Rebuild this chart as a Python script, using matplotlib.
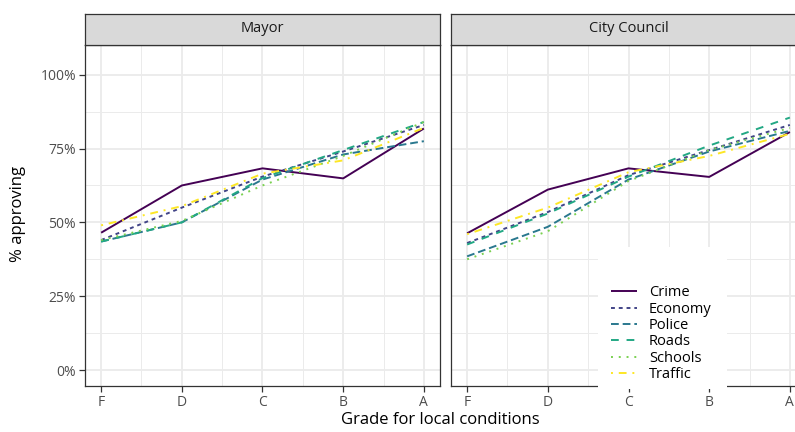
import matplotlib
matplotlib.use("Agg")
import matplotlib.pyplot as plt
from matplotlib.patches import Rectangle
from matplotlib.lines import Line2D

plt.rcParams['font.family'] = ['Open Sans', 'DejaVu Sans']

grades = ["F", "D", "C", "B", "A"]
panels = ["Mayor", "City Council"]
issues = ["Crime", "Economy", "Police", "Roads", "Schools", "Traffic"]

mayor_crime = [0.465, 0.625, 0.683, 0.649, 0.818]
mayor_economy = [0.44, 0.55, 0.655, 0.74, 0.83]
mayor_police = [0.435, 0.50, 0.645, 0.73, 0.775]
mayor_roads = [0.435, 0.50, 0.65, 0.745, 0.84]
mayor_schools = [0.44, 0.505, 0.625, 0.725, 0.84]
mayor_traffic = [0.49, 0.555, 0.665, 0.71, 0.82]

council_crime = [0.463, 0.611, 0.683, 0.654, 0.806]
council_economy = [0.43, 0.535, 0.66, 0.745, 0.83]
council_police = [0.385, 0.485, 0.645, 0.74, 0.81]
council_roads = [0.425, 0.53, 0.655, 0.76, 0.855]
council_schools = [0.375, 0.47, 0.64, 0.745, 0.82]
council_traffic = [0.46, 0.55, 0.67, 0.725, 0.80]

data = {
    "Mayor": [mayor_crime, mayor_economy, mayor_police, mayor_roads, mayor_schools, mayor_traffic],
    "City Council": [council_crime, council_economy, council_police, council_roads, council_schools, council_traffic],
}

colors = ["#440154", "#414487", "#2A788E", "#22A884", "#7AD151", "#FDE725"]
dashes = [None, (2, 2), (4, 2), (4, 4), (1, 3), (1, 3, 4, 3)]
lw = 1.4

W, H = 795, 432
fig = plt.figure(figsize=(W / 100, H / 100), dpi=100)

def fx(px):
    return px / W

def fy(py):
    return 1 - py / H

panel_left = [85, 451]
pw = 355
ptop, pbot = 44.5, 385.5
strip_top = 13.5

xs = list(range(1, len(grades) + 1))
axes = []
for i, name in enumerate(panels):
    ax = fig.add_axes([fx(panel_left[i]), fy(pbot), pw / W, (pbot - ptop) / H])
    axes.append(ax)
    ax.set_xlim(0.8, 5.2)
    ax.set_ylim(-0.0525, 1.1025)
    ax.set_xticks(xs)
    ax.set_xticks([1.5, 2.5, 3.5, 4.5], minor=True)
    ax.set_yticks([0, 0.25, 0.5, 0.75, 1.0])
    ax.set_yticks([0.125, 0.375, 0.625, 0.875], minor=True)
    ax.grid(True, which='major', color='#EBEBEB', lw=1.3, zorder=0)
    ax.grid(True, which='minor', color='#EBEBEB', lw=0.7, zorder=0)
    ax.set_axisbelow(True)
    ax.set_xticklabels(grades)
    if i == 0:
        ax.set_yticklabels(["0%", "25%", "50%", "75%", "100%"])
    else:
        ax.tick_params(axis='y', which='both', left=False, labelleft=False)
    ax.tick_params(axis='both', which='major', length=4, width=0.9, color='#333333',
                   labelsize=10, labelcolor='#4D4D4D', pad=2.5)
    ax.tick_params(axis='both', which='minor', length=0)
    for s in ax.spines.values():
        s.set_color('#333333')
        s.set_linewidth(0.9)
    for k, issue in enumerate(issues):
        line, = ax.plot(xs, data[name][k], color=colors[k], lw=lw, label=issue,
                        solid_capstyle='butt', dash_capstyle='butt')
        if dashes[k] is not None:
            line.set_dashes(dashes[k])
    # strip
    sax = fig.add_axes([fx(panel_left[i]), fy(ptop), pw / W, (ptop - strip_top) / H])
    sax.set_facecolor('#D9D9D9')
    sax.set_xticks([])
    sax.set_yticks([])
    for s in sax.spines.values():
        s.set_color('#333333')
        s.set_linewidth(0.9)
    sax.text(0.5, 0.5, name, ha='center', va='center', fontsize=10.5, color='#1A1A1A',
             transform=sax.transAxes)

fig.text(fx(18), fy(214), "% approving", rotation=90, ha='center', va='center',
         fontsize=12, color='black')
fig.text(fx(440), fy(420), "Grade for local conditions", ha='center', va='center',
         fontsize=12, color='black')

# legend background
rect = Rectangle((fx(598), fy(389)), (727 - 598) / W, (389 - 247) / H,
                 transform=fig.transFigure, facecolor='white', edgecolor='none', zorder=4)
fig.patches.append(rect)

handles = []
for k, issue in enumerate(issues):
    h = Line2D([], [], color=colors[k], lw=lw, solid_capstyle='butt', dash_capstyle='butt')
    if dashes[k] is not None:
        h.set_dashes(dashes[k])
    handles.append(h)
leg = fig.legend(handles, issues, loc='upper left', bbox_to_anchor=(fx(611), fy(285.5)),
                 frameon=False, fontsize=10.5, handlelength=1.75, handletextpad=0.85,
                 labelspacing=0.09, borderpad=0, borderaxespad=0)
leg.set_zorder(5)
for t in leg.get_texts():
    t.set_color('black')

fig.savefig("out.png", dpi=100)
